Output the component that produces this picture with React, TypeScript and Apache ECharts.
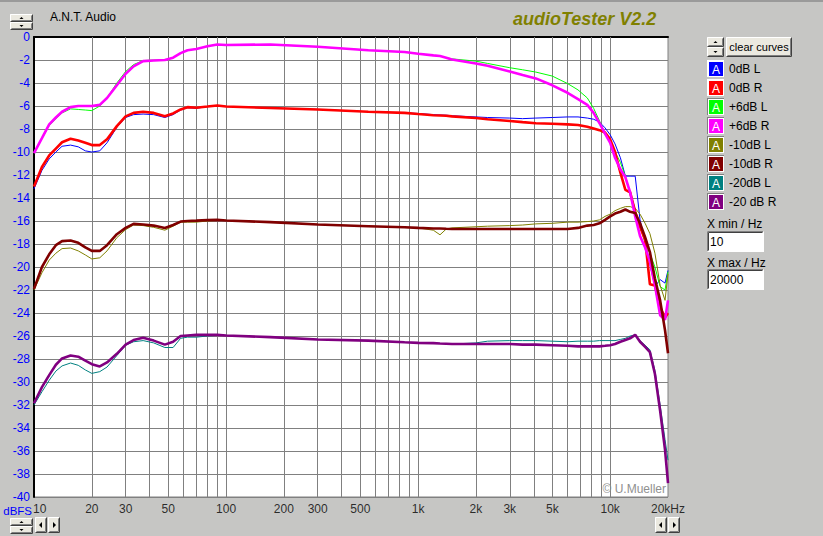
import React, { useEffect, useRef } from "react";
import * as echarts from "echarts";

// ---- data ----
const FREQ = [10, 11, 12, 13, 14, 15.5, 17, 18.5, 20, 22, 24, 27, 30, 33, 37, 42, 48, 53, 58, 63, 70, 80, 90, 100, 170, 300, 550, 850, 1000, 1200, 1300, 1400, 1500, 2000, 2300, 3000, 3500, 4100, 5000, 6000, 6800, 7600, 8200, 8800, 9400, 10000, 10600, 11300, 12000, 12700, 13500, 14300, 15200, 16100, 17100, 18200, 19300, 20000];

const DB0_L = [-13.2, -11.6, -10.6, -10.0, -9.5, -9.4, -9.55, -9.9, -10.0, -9.9,
  -9.2, -7.85, -7.0, -6.75, -6.7, -6.75, -7.0, -6.75, -6.35, -6.15,
  -6.2, -6.05, -5.95, -6.05, -6.17, -6.3, -6.5, -6.6, -6.65, -6.75,
  -6.78, -6.8, -6.85, -6.95, -7.0, -7.05, -7.1, -7.05, -7.0, -6.95,
  -6.95, -7.05, -7.15, -7.4, -7.9, -8.5, -9.3, -10.5, -12.1, -12.1,
  -12.1, -15.9, -17.8, -19.8, -21.7, -21.1, -21.4, -20.3];

const DB0_R = [-13.0, -11.3, -10.3, -9.7, -9.15, -8.85, -9.0, -9.2, -9.4, -9.4,
  -8.9, -7.75, -6.9, -6.6, -6.5, -6.6, -6.9, -6.65, -6.3, -6.1,
  -6.15, -6.05, -5.95, -6.05, -6.17, -6.3, -6.5, -6.6, -6.7, -6.8,
  -6.82, -6.85, -6.9, -7.05, -7.15, -7.3, -7.4, -7.5, -7.55, -7.6,
  -7.65, -7.8, -7.95, -8.1, -8.3, -8.9, -10.0, -11.8, -13.3, -13.5,
  -15.2, -16.5, -17.6, -21.5, -21.6, -23.5, -24.4, -24.0];

const DB6_L = [-10.1, -8.8, -7.7, -7.1, -6.6, -6.25, -6.3, -6.35, -6.4, -6.0,
  -5.3, -4.0, -3.0, -2.4, -2.05, -2.0, -2.0, -1.8, -1.4, -1.15,
  -1.05, -0.8, -0.65, -0.7, -0.65, -0.85, -1.15, -1.3, -1.45, -1.6,
  -1.65, -1.8, -1.9, -2.1, -2.3, -2.67, -2.85, -3.05, -3.4, -4.05,
  -4.6, -5.3, -6.2, -7.3, -8.4, -9.1, -10.0, -10.9, -12.1, -13.5,
  -15.0, -16.5, -17.9, -18.8, -20.0, -21.7, -22.0, -20.4];

const DB6_R = [-10.1, -8.8, -7.6, -7.0, -6.5, -6.1, -6.0, -6.0, -6.0, -5.9,
  -5.3, -4.2, -3.2, -2.55, -2.1, -2.05, -2.0, -1.8, -1.4, -1.15,
  -1.05, -0.8, -0.65, -0.7, -0.65, -0.85, -1.15, -1.3, -1.45, -1.6,
  -1.65, -1.8, -1.95, -2.3, -2.5, -3.0, -3.3, -3.6, -4.2, -4.85,
  -5.4, -5.9, -6.6, -7.5, -8.4, -9.2, -10.5, -11.5, -12.2, -13.5,
  -15.6, -17.3, -18.3, -19.5, -21.6, -24.2, -24.6, -22.9];

const DBM10_L = [-22.0, -20.5, -19.4, -18.8, -18.4, -18.35, -18.6, -18.95, -19.3, -19.2,
  -18.6, -17.45, -16.75, -16.35, -16.4, -16.55, -16.8, -16.45, -16.1, -16.1,
  -16.1, -16.0, -15.95, -15.95, -16.1, -16.3, -16.45, -16.55, -16.6, -16.8,
  -17.2, -16.7, -16.6, -16.5, -16.45, -16.4, -16.35, -16.25, -16.2, -16.1,
  -16.1, -16.05, -16.0, -15.9, -15.6, -15.4, -15.1, -14.9, -14.75, -14.75,
  -14.9, -15.4, -16.2, -17.1, -18.8, -21.6, -22.9, -20.6];

const DBM10_R = [-21.9, -20.0, -18.9, -18.1, -17.75, -17.7, -17.9, -18.3, -18.6, -18.6,
  -18.1, -17.15, -16.6, -16.25, -16.3, -16.4, -16.6, -16.35, -16.05, -16.0,
  -15.97, -15.92, -15.9, -15.95, -16.1, -16.3, -16.45, -16.55, -16.6, -16.65,
  -16.65, -16.68, -16.7, -16.7, -16.7, -16.7, -16.7, -16.7, -16.7, -16.7,
  -16.6, -16.4, -16.35, -16.2, -15.9, -15.6, -15.35, -15.2, -15.0, -15.2,
  -15.3, -16.2, -17.4, -18.7, -21.0, -22.9, -25.5, -27.5];

const DBM20_L = [-32.0, -30.85, -29.85, -29.05, -28.6, -28.35, -28.55, -28.95, -29.25, -29.1,
  -28.7, -27.7, -26.8, -26.5, -26.4, -26.6, -27.0, -27.0, -26.2, -26.1,
  -26.1, -26.0, -25.95, -25.95, -26.1, -26.3, -26.4, -26.55, -26.6, -26.62,
  -26.65, -26.67, -26.7, -26.6, -26.45, -26.4, -26.4, -26.4, -26.45, -26.5,
  -26.45, -26.45, -26.45, -26.4, -26.4, -26.4, -26.4, -26.3, -26.2, -26.0,
  -25.9, -26.4, -26.8, -27.2, -29.0, -32.0, -35.0, -36.8];

const DBM20_R = [-31.85, -30.45, -29.4, -28.5, -27.95, -27.7, -27.8, -28.15, -28.45, -28.65,
  -28.3, -27.55, -26.75, -26.35, -26.15, -26.4, -26.75, -26.5, -26.0, -25.95,
  -25.9, -25.9, -25.9, -25.95, -26.1, -26.3, -26.4, -26.55, -26.6, -26.62,
  -26.65, -26.67, -26.7, -26.7, -26.7, -26.7, -26.75, -26.75, -26.8, -26.85,
  -26.9, -26.9, -26.9, -26.9, -26.85, -26.8, -26.7, -26.5, -26.35, -26.2,
  -25.9, -26.5, -26.95, -27.4, -29.3, -32.5, -35.9, -38.8];

const SERIES_NAMES = ["0dB L", "0dB R", "+6dB L", "+6dB R", "-10dB L", "-10dB R", "-20dB L", "-20 dB R"];
const SERIES_VALUES = [DB0_L, DB0_R, DB6_L, DB6_R, DBM10_L, DBM10_R, DBM20_L, DBM20_R];
const SERIES_COLORS = ["#0000ff", "#ff0000", "#00ff00", "#ff00ff", "#808000", "#800000", "#008080", "#800080"];

const TICK_FREQS = [10, 20, 30, 50, 100, 200, 300, 500, 1000, 2000, 3000, 5000, 10000, 20000];
const TICK_LABELS = ["10", "20", "30", "50", "100", "200", "300", "500", "1k", "2k", "3k", "5k", "10k", "20kHz"];
const GRID_FREQS = [20, 30, 40, 50, 60, 70, 80, 90, 100, 200, 300, 400, 500, 600, 700, 800, 900,
  1000, 2000, 3000, 4000, 5000, 6000, 7000, 8000, 9000, 10000];

const FONT = "'Liberation Sans', Arial, sans-serif";
const BG = "#c6c6c4";
const FACE = "#ebe9e0";

function iconUrl(color: string, raised: boolean) {
  const svg = `<svg xmlns="http://www.w3.org/2000/svg" width="17" height="17">` +
    `<rect x="0" y="0" width="17" height="17" fill="${raised ? "#ffffff" : "#808080"}"/>` +
    `<rect x="1" y="1" width="16" height="16" fill="#ffffff"/>` +
    `<rect x="2" y="2" width="14" height="14" fill="${color}"/>` +
    `<text x="9" y="14" font-family="Liberation Sans, Arial, sans-serif" font-size="12" fill="#ffffff" text-anchor="middle">A</text></svg>`;
  return "image://data:image/svg+xml;charset=utf-8," + encodeURIComponent(svg);
}

function bevel(x: number, y: number, w: number, h: number, children: any[] = []) {
  return {
    type: "group", x, y, silent: true,
    children: [
      { type: "rect", shape: { x: 0, y: 0, width: w, height: h }, style: { fill: FACE } },
      { type: "polyline", shape: { points: [[0.5, h - 0.5], [0.5, 0.5], [w - 0.5, 0.5]] }, style: { stroke: "#ffffff", fill: null, lineWidth: 1 } },
      { type: "polyline", shape: { points: [[0.5, h - 0.5], [w - 0.5, h - 0.5], [w - 0.5, 0.5]] }, style: { stroke: "#404040", fill: null, lineWidth: 1 } },
      { type: "polyline", shape: { points: [[1.5, h - 1.5], [w - 1.5, h - 1.5], [w - 1.5, 1.5]] }, style: { stroke: "#808080", fill: null, lineWidth: 1 } },
      ...children,
    ],
  };
}

function tri(cx: number, cy: number, dir: "up" | "down" | "left" | "right", s = 2) {
  let pts: number[][];
  if (dir === "up") pts = [[cx - s, cy + 1], [cx + s, cy + 1], [cx, cy - s + 1]];
  else if (dir === "down") pts = [[cx - s, cy - 1], [cx + s, cy - 1], [cx, cy + s - 1]];
  else if (dir === "left") pts = [[cx + 1, cy - s - 1], [cx + 1, cy + s + 1], [cx - s, cy]];
  else pts = [[cx - 1, cy - s - 1], [cx - 1, cy + s + 1], [cx + s, cy]];
  return { type: "polygon", shape: { points: pts }, style: { fill: "#000" } };
}

function spinner(x: number, y: number, w: number, hh: number) {
  return {
    type: "group", x, y, silent: true,
    children: [
      bevel(0, 0, w, hh, [tri(w / 2, hh / 2, "up")]),
      bevel(0, hh, w, hh, [tri(w / 2, hh / 2, "down")]),
    ],
  };
}

function inputBox(x: number, y: number, w: number, h: number, text: string) {
  return {
    type: "group", x, y, silent: true,
    children: [
      { type: "rect", shape: { x: 0, y: 0, width: w, height: h }, style: { fill: "#ffffff" } },
      { type: "polyline", shape: { points: [[0.5, h - 0.5], [0.5, 0.5], [w - 0.5, 0.5]] }, style: { stroke: "#808080", fill: null } },
      { type: "polyline", shape: { points: [[1.5, h - 1.5], [1.5, 1.5], [w - 1.5, 1.5]] }, style: { stroke: "#404040", fill: null } },
      { type: "polyline", shape: { points: [[0.5, h - 0.5], [w - 0.5, h - 0.5], [w - 0.5, 0.5]] }, style: { stroke: "#ffffff", fill: null } },
      { type: "text", x: 3, y: h / 2, style: { text, fill: "#000", font: `12px ${FONT}`, verticalAlign: "middle" } },
    ],
  };
}

export default function App() {
  const ref = useRef<HTMLDivElement>(null);
  useEffect(() => {
    if (!ref.current) return;
    const chart = echarts.init(ref.current, null, { renderer: "svg" });

    const order = [0, 2, 4, 6, 1, 3, 5, 7];
    const lineSeries = order.map((i) => {
      const isR = i % 2 === 1;
      return {
        type: "line",
        name: SERIES_NAMES[i],
        data: FREQ.map((f, k) => [f, SERIES_VALUES[i][k]]),
        symbol: "none",
        showSymbol: false,
        lineStyle: { color: SERIES_COLORS[i], width: isR ? 2.6 : 1 },
        itemStyle: { color: SERIES_COLORS[i] },
        z: isR ? 4 : 3,
        silent: true,
        emphasis: { disabled: true },
      };
    });

    const labelSeries = {
      type: "scatter",
      name: "ticks",
      xAxisIndex: 0,
      yAxisIndex: 0,
      symbolSize: 1,
      clip: false,
      silent: true,
      z: 2,
      itemStyle: { color: "rgba(0,0,0,0)" },
      label: {
        show: true,
        position: "bottom",
        distance: 5,
        color: "#000",
        fontSize: 12,
        fontFamily: FONT,
      },
      data: TICK_FREQS.map((f, i) => ({
        value: [f, -40],
        label: { formatter: TICK_LABELS[i], align: i === 0 ? "left" : "center", offset: i === 0 ? [-1, 0] : [0, 0] },
      })),
      markLine: {
        silent: true,
        symbol: ["none", "none"],
        z: 1,
        label: { show: false },
        emphasis: { disabled: true },
        lineStyle: { color: "#808080", width: 1, type: "solid" },
        data: GRID_FREQS.map((f) => ({ xAxis: f })),
      },
    };

    const legendData = SERIES_NAMES.map((n, i) => ({ name: n, icon: iconUrl(SERIES_COLORS[i], i < 2) }));

    chart.setOption({
      animation: false,
      backgroundColor: BG,
      textStyle: { fontFamily: FONT },
      grid: {
        left: 34, top: 37, width: 634, height: 460,
        show: true, backgroundColor: "#ffffff", borderColor: "#808080", borderWidth: 1,
      },
      legend: {
        orient: "vertical",
        left: 707,
        top: 60,
        padding: 0,
        itemWidth: 17,
        itemHeight: 17,
        itemGap: 2,
        selectedMode: false,
        textStyle: { fontSize: 12, color: "#000", fontFamily: FONT },
        data: legendData,
      },
      xAxis: [
        {
          type: "log", logBase: 10, min: 10, max: 20000, position: "bottom",
          axisLine: { show: false }, axisTick: { show: false }, axisLabel: { show: false },
          splitLine: { show: false }, minorSplitLine: { show: false },
        },
        {
          type: "log", logBase: 10, min: 10, max: 20000, position: "top",
          axisLine: { show: true, lineStyle: { color: "#000", width: 2 } },
          axisTick: { show: false }, axisLabel: { show: false }, splitLine: { show: false },
        },
      ],
      yAxis: {
        type: "value", min: -40, max: 0, interval: 2,
        axisLine: { show: true, lineStyle: { color: "#000", width: 2 } },
        axisTick: { show: false },
        axisLabel: { color: "#0000ff", fontSize: 12, fontFamily: FONT, margin: 4 },
        splitLine: { show: true, lineStyle: { color: "#808080", width: 1 } },
      },
      graphic: [
        { type: "rect", shape: { x: 0, y: 0, width: 823, height: 2 }, style: { fill: "#9a9a9a" }, silent: true },
        spinner(10, 14, 23, 8),
        { type: "text", x: 50, y: 17, style: { text: "A.N.T. Audio", fill: "#000", font: `12px ${FONT}`, verticalAlign: "middle" }, silent: true },
        { type: "text", x: 513, y: 19, style: { text: "audioTester V2.2", fill: "#808000", font: `italic bold 18px ${FONT}`, verticalAlign: "middle" }, silent: true },
        spinner(707, 37, 17, 10),
        bevel(726, 37, 66, 20, [
          { type: "text", x: 33, y: 10, style: { text: "clear curves", fill: "#000", font: `11px ${FONT}`, align: "center", verticalAlign: "middle" } },
        ]),
        { type: "text", x: 707, y: 224, style: { text: "X min / Hz", fill: "#000", font: `12px ${FONT}`, verticalAlign: "middle" }, silent: true },
        inputBox(707, 231, 57, 21, "10"),
        { type: "text", x: 707, y: 263, style: { text: "X max / Hz", fill: "#000", font: `12px ${FONT}`, verticalAlign: "middle" }, silent: true },
        inputBox(707, 269, 57, 21, "20000"),
        { type: "text", x: 666, y: 489, z: 10, style: { text: "\u00a9 U.Mueller", fill: "#909090", font: `12px ${FONT}`, align: "right", verticalAlign: "middle" }, silent: true },
        { type: "text", x: 32, y: 511, style: { text: "dBFS", fill: "#0000ff", font: `11.5px ${FONT}`, align: "right", verticalAlign: "middle" }, silent: true },
        spinner(10, 518, 23, 8),
        bevel(35, 517, 12, 16, [tri(6, 8, "left")]),
        bevel(48, 517, 12, 16, [tri(6, 8, "right")]),
        bevel(655, 517, 12, 16, [tri(6, 8, "left")]),
        bevel(668, 517, 12, 16, [tri(6, 8, "right")]),
      ],
      series: [labelSeries, ...lineSeries],
    });

    return () => chart.dispose();
  }, []);

  return (
    <div
      ref={ref}
      style={{ position: "fixed", left: 0, top: 0, width: 823, height: 536 }}
    />
  );
}
